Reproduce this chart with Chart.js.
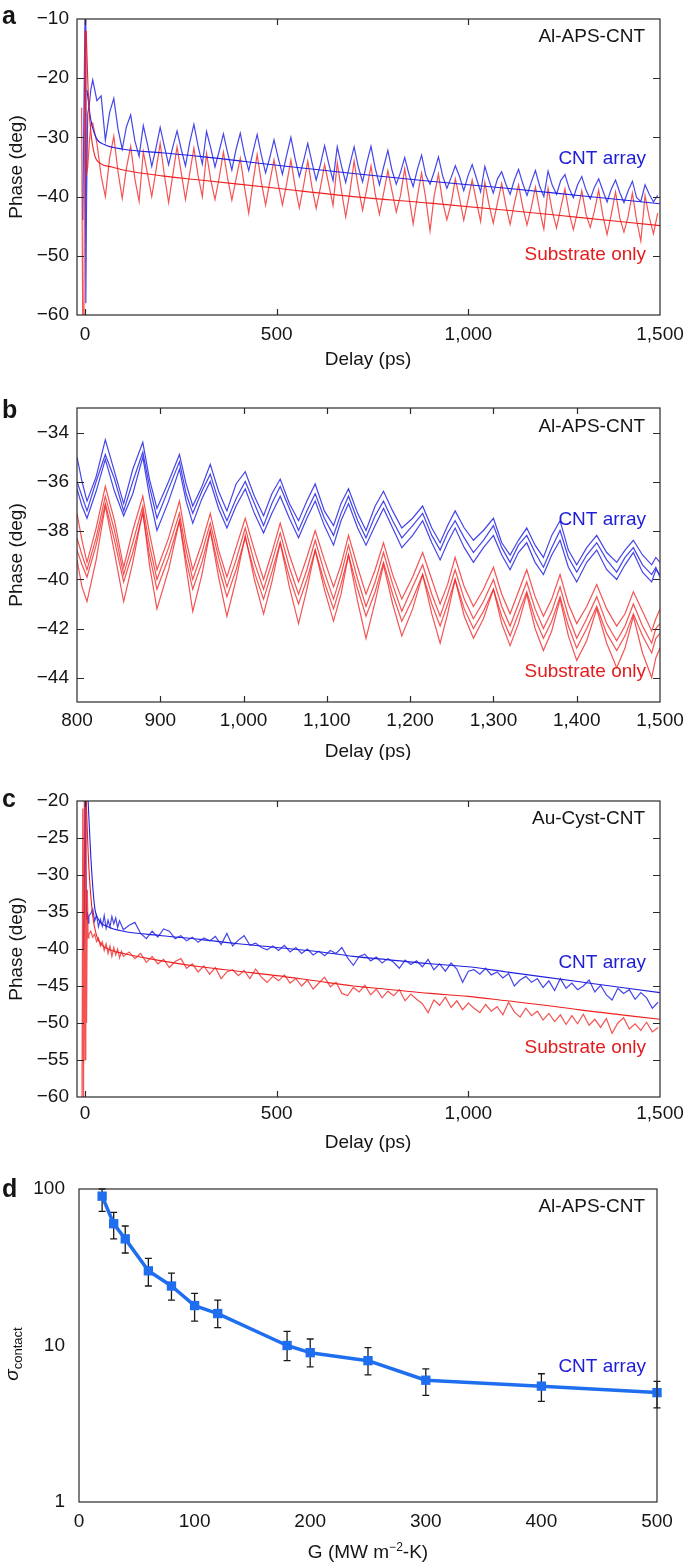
<!DOCTYPE html>
<html>
<head>
<meta charset="utf-8">
<script src="https://cdn.jsdelivr.net/npm/chart.js@4.4.1/dist/chart.umd.min.js"></script>
<style>
  html, body { margin: 0; padding: 0; background: #fff; }
  body { width: 685px; height: 1564px; position: relative; overflow: hidden; }
  canvas { position: absolute; left: 0; }
</style>
</head>
<body>
<canvas id="chartA" width="685" height="370" style="top:0px"></canvas>
<canvas id="chartB" width="685" height="390" style="top:370px"></canvas>
<canvas id="chartC" width="685" height="400" style="top:760px"></canvas>
<canvas id="chartD" width="685" height="404" style="top:1160px"></canvas>
<script>
// ---- panel a: Al-APS-CNT, full delay range ----
const aDelay = [-9, -6, -3, 0, 2, 4, 7, 11, 15,
  20, 31, 42, 53, 64, 75, 86, 97, 108, 119, 130, 141, 152, 163, 174, 185, 196, 207, 218, 229,
  240, 251, 262, 273, 284, 295, 306, 317, 328, 339, 350, 361, 372, 383, 394, 405, 416, 427, 438, 449,
  460, 471, 482, 493, 504, 515, 526, 537, 548, 559, 570, 581, 592, 603, 614, 625, 636, 647, 658, 669,
  680, 691, 702, 713, 724, 735, 746, 757, 768, 779, 790, 801, 812, 823, 834, 845, 856, 867, 878, 889,
  900, 911, 922, 933, 944, 955, 966, 977, 988, 999, 1010, 1021, 1032, 1043, 1054, 1065, 1076, 1087, 1098, 1109,
  1120, 1131, 1142, 1153, 1164, 1175, 1186, 1197, 1208, 1219, 1230, 1241, 1252, 1263, 1274, 1285, 1296, 1307, 1318, 1329,
  1340, 1351, 1362, 1373, 1384, 1395, 1406, 1417, 1428, 1439, 1450, 1461, 1472, 1483, 1494]
const aBlue = [null, -44, -26, -9, -58, -40, -26, -24.5, -22,
  -20.3, -23.8, -23.0, -30.5, -25.8, -23.4, -28.6, -32.0, -28.2, -26.2,
  -30.6, -33.2, -28.0, -31.2, -34.9, -31.8, -28.3, -31.5, -34.6, -31.6,
  -28.9, -32.0, -34.8, -30.9, -27.8, -31.5, -34.5, -29.0, -31.8, -35.0,
  -32.3, -29.4, -32.6, -35.5, -32.0, -29.3, -32.9, -35.6, -32.5, -29.5,
  -33.0, -36.0, -33.4, -30.4, -33.5, -36.2, -33.0, -30.0, -33.6, -36.6,
  -34.0, -31.0, -34.2, -37.2, -34.6, -31.4, -34.5, -37.3, -31.6, -34.8,
  -37.6, -34.5, -31.6, -35.0, -37.5, -34.3, -31.5, -35.2, -38.0, -35.0,
  -32.2, -35.6, -37.9, -35.9, -33.4, -36.2, -38.3, -35.4, -33.0, -36.4,
  -37.9, -35.8, -33.3, -36.5, -38.6, -36.8, -34.8, -36.6, -39.0, -36.5,
  -34.6, -36.9, -39.2, -34.9, -37.3, -39.4, -37.0, -35.8, -37.9, -39.6,
  -37.2, -35.4, -37.8, -39.8, -37.6, -35.6, -38.2, -40.0, -35.7, -38.1,
  -39.6, -37.3, -36.3, -38.6, -40.2, -38.0, -36.6, -38.9, -40.4, -38.4,
  -37.0, -39.0, -40.9, -38.7, -37.2, -39.3, -41.0, -39.0, -37.4, -40.2,
  -40.8, -38.0, -39.6, -40.9, -39.8]
const aRed = [-25, -62, -62, -12, -22, -36, -35, -31, -28,
  -27.6, -31.0, -36.5, -40.0, -33.5, -29.8, -35.8, -40.3, -35.2, -31.5,
  -37.0, -40.8, -32.4, -36.2, -40.0, -35.6, -31.0, -36.4, -41.0, -36.3,
  -31.6, -36.0, -40.5, -36.1, -31.8, -36.5, -40.0, -32.7, -37.2, -40.5,
  -36.8, -32.5, -36.9, -40.6, -37.0, -33.5, -38.4, -42.8, -37.6, -32.9,
  -37.6, -41.4, -37.5, -33.8, -37.9, -41.4, -37.8, -33.8, -38.3, -41.9,
  -38.2, -34.0, -38.4, -42.0, -38.5, -34.6, -38.0, -41.5, -34.3, -39.0,
  -43.4, -39.2, -34.0, -38.5, -42.3, -38.7, -34.8, -39.6, -43.0, -39.4,
  -35.6, -39.1, -42.6, -39.8, -35.3, -40.0, -44.6, -40.0, -36.0, -40.4,
  -45.8, -39.8, -36.2, -40.9, -43.9, -41.2, -37.0, -40.3, -44.0, -40.6,
  -37.2, -40.8, -44.2, -37.6, -41.4, -44.5, -41.0, -37.8, -41.6, -44.7,
  -41.2, -38.0, -41.8, -44.8, -41.9, -38.4, -42.3, -45.5, -38.6, -42.5,
  -45.3, -42.0, -38.7, -42.8, -45.6, -42.5, -39.0, -43.0, -45.2, -42.4,
  -38.9, -43.2, -46.4, -43.0, -39.2, -43.6, -46.0, -43.3, -39.4, -44.0,
  -47.5, -39.8, -43.5, -46.3, -42.8]
const aBlueFitT = [5, 15, 30, 50, 100, 200, 300, 500, 700, 900, 1100, 1300, 1500]
const aBlueFit = [-22, -27, -30.2, -31.2, -32.0, -32.6, -33.2, -34.7, -36.1, -37.4, -38.6, -39.9, -41.2]
const aRedFitT = [3, 8, 15, 25, 40, 70, 100, 200, 300, 500, 700, 900, 1100, 1300, 1500]
const aRedFit = [-12, -22, -29, -33, -34.4, -35.0, -35.5, -36.5, -37.2, -38.6, -40.0, -41.1, -42.3, -43.6, -44.9]
const aXTicks = [0, 500, 1000, 1500]
const aYTicks = [-10, -20, -30, -40, -50, -60]

// ---- panel b: zoom 800-1500 ps, repeated scans ----
const bDelay = [800, 806, 812, 823, 834, 845, 856, 867, 879, 887, 896, 910, 923, 931, 939, 950, 960, 970, 980, 991,
  1002, 1013, 1024, 1034, 1044, 1055, 1066, 1076, 1086, 1097, 1108, 1117, 1126, 1137, 1147, 1158, 1168, 1179, 1190, 1203,
  1215, 1226, 1236, 1245, 1254, 1265, 1276, 1288, 1300, 1310, 1320, 1330, 1340, 1350, 1360, 1370, 1380, 1390, 1400, 1412,
  1424, 1436, 1448, 1458, 1468, 1479, 1490, 1495, 1500]
const bBlue1 = [-35.0, -36.0, -36.8, -35.8, -34.3, -35.6, -36.9, -35.5, -34.4, -35.9,
  -37.1, -36.0, -34.9, -36.1, -37.0, -36.2, -35.3, -36.4, -37.2, -36.1,
  -35.6, -36.6, -37.4, -36.5, -35.9, -36.9, -37.6, -36.8, -36.1, -37.2,
  -37.8, -36.9, -36.3, -37.3, -38.0, -37.0, -36.4, -37.2, -37.9, -37.5,
  -37.0, -37.9, -38.5, -37.8, -37.2, -37.9, -38.4, -38.0, -37.5, -38.5,
  -39.0, -38.4, -37.9, -38.6, -39.1, -38.2, -37.6, -38.8, -39.4, -38.7,
  -38.2, -38.9, -39.3, -38.8, -38.4, -39.0, -39.4, -39.1, -39.3]
const bBlue2 = [-36.0, -36.6, -37.2, -36.0, -34.9, -35.9, -37.2, -36.0, -34.8, -36.2,
  -37.5, -36.3, -35.2, -36.5, -37.3, -36.4, -35.7, -36.8, -37.6, -36.7,
  -36.0, -36.9, -37.8, -36.9, -36.2, -37.1, -38.0, -37.2, -36.5, -37.5,
  -38.2, -37.3, -36.6, -37.6, -38.3, -37.4, -36.8, -37.6, -38.3, -37.8,
  -37.3, -38.2, -38.8, -38.1, -37.6, -38.3, -38.9, -38.4, -37.8, -38.7,
  -39.3, -38.6, -38.2, -38.9, -39.5, -38.7, -38.0, -39.1, -39.7, -39.0,
  -38.5, -39.2, -39.7, -39.1, -38.7, -39.4, -39.8, -39.5, -39.9]
const bBlue3 = [-36.3, -37.0, -37.5, -36.4, -35.1, -36.4, -37.4, -36.5, -35.0, -36.6,
  -38.0, -36.8, -35.5, -36.8, -37.7, -36.7, -36.0, -37.1, -37.9, -37.0,
  -36.3, -37.3, -38.1, -37.3, -36.6, -37.5, -38.3, -37.5, -36.8, -37.8,
  -38.6, -37.6, -36.9, -37.9, -38.6, -37.8, -37.1, -37.9, -38.7, -38.2,
  -37.6, -38.5, -39.2, -38.5, -37.9, -38.7, -39.3, -38.7, -38.2, -39.0,
  -39.6, -38.9, -38.5, -39.3, -39.8, -39.0, -38.4, -39.5, -40.1, -39.3,
  -38.8, -39.6, -40.0, -39.4, -38.9, -39.7, -40.1, -39.6, -39.8]
const bRed1 = [-37.3, -38.4, -39.3, -37.9, -36.2, -37.6, -39.5, -38.0, -36.6, -38.1,
  -39.6, -38.3, -36.8, -38.4, -39.6, -38.5, -37.3, -38.8, -39.9, -38.7,
  -37.5, -38.8, -40.0, -38.9, -37.7, -39.0, -40.1, -39.1, -38.0, -39.2,
  -40.3, -39.4, -38.2, -39.5, -40.6, -39.6, -38.5, -39.8, -40.8, -39.9,
  -38.9, -40.0, -41.0, -40.2, -39.1, -40.3, -41.1, -40.4, -39.5, -40.6,
  -41.4, -40.5, -39.6, -40.7, -41.5, -40.8, -39.8, -41.0, -41.8, -41.1,
  -40.2, -41.2, -41.9, -41.4, -40.5, -41.3, -42.1, -41.6, -41.2]
const bRed2 = [-38.3, -39.0, -39.6, -38.3, -36.6, -38.0, -39.8, -38.5, -37.0, -38.6,
  -40.0, -38.7, -37.3, -38.8, -40.0, -38.9, -37.7, -39.1, -40.3, -39.2,
  -37.9, -39.3, -40.4, -39.3, -38.1, -39.5, -40.6, -39.6, -38.4, -39.7,
  -40.8, -39.8, -38.6, -40.0, -41.1, -40.1, -38.9, -40.2, -41.3, -40.3,
  -39.4, -40.6, -41.5, -40.6, -39.6, -40.8, -41.6, -40.9, -40.0, -41.1,
  -41.9, -41.0, -40.1, -41.2, -42.0, -41.3, -40.3, -41.5, -42.4, -41.6,
  -40.7, -41.8, -42.5, -41.9, -41.0, -41.9, -42.6, -42.0, -41.8]
const bRed3 = [-38.8, -39.4, -39.9, -38.6, -36.9, -38.4, -40.1, -38.9, -37.3, -39.0,
  -40.4, -39.1, -37.6, -39.2, -40.4, -39.3, -38.0, -39.5, -40.7, -39.6,
  -38.3, -39.7, -40.8, -39.7, -38.5, -39.9, -41.0, -40.0, -38.8, -40.1,
  -41.2, -40.2, -39.0, -40.4, -41.5, -40.5, -39.3, -40.6, -41.7, -40.8,
  -39.8, -41.0, -41.9, -41.0, -40.0, -41.2, -42.0, -41.3, -40.4, -41.5,
  -42.3, -41.4, -40.5, -41.6, -42.4, -41.7, -40.7, -41.9, -42.8, -42.0,
  -41.1, -42.2, -42.9, -42.3, -41.4, -42.3, -43.0, -42.4, -42.2]
const bRed4 = [-39.2, -40.3, -40.9, -39.2, -37.0, -38.9, -40.9, -39.3, -37.2, -39.4,
  -41.2, -39.6, -37.6, -39.5, -41.3, -39.8, -38.0, -39.9, -41.5, -40.0,
  -38.2, -40.0, -41.4, -40.1, -38.5, -40.3, -41.8, -40.4, -38.8, -40.4,
  -41.7, -40.6, -39.0, -40.9, -42.4, -40.9, -39.4, -41.0, -42.3, -41.2,
  -39.8, -41.4, -42.6, -41.4, -40.0, -41.5, -42.4, -41.6, -40.4, -41.8,
  -42.7, -41.8, -40.6, -42.0, -42.9, -42.1, -40.8, -42.3, -43.3, -42.5,
  -41.2, -42.6, -43.6, -42.8, -41.5, -43.0, -44.0, -43.2, -42.8]
const bXTicks = [800, 900, 1000, 1100, 1200, 1300, 1400, 1500]
const bYTicks = [-34, -36, -38, -40, -42, -44]

// ---- panel c: Au-Cyst-CNT ----
const cDelay = [-8, -6, -4, -2, 0, 2, 4, 6, 8, 10,
  15, 20, 25, 30, 35, 40, 45, 50, 55, 60, 65, 70, 75, 80, 85, 90, 95, 100,
  115, 130, 145, 160, 175, 190, 205, 220, 235, 250,
  265, 280, 295, 310, 325, 340, 355, 370, 385, 400,
  415, 430, 445, 460, 475, 490, 505, 520, 535, 550,
  565, 580, 595, 610, 625, 640, 655, 670, 685, 700,
  715, 730, 745, 760, 775, 790, 805, 820, 835, 850,
  865, 880, 895, 910, 925, 940, 955, 970, 985, 1000,
  1015, 1030, 1045, 1060, 1075, 1090, 1105, 1120, 1135, 1150,
  1165, 1180, 1195, 1210, 1225, 1240, 1255, 1270, 1285, 1300,
  1315, 1330, 1345, 1360, 1375, 1390, 1405, 1420, 1435, 1450,
  1465, 1480, 1495]
const cBlue = [null, null, -40, -35, -18, -28, -36, -35, -36.5, -35.5,
  -35.2, -34.6, -36.2, -35.4, -37.0, -36.0, -36.9, -35.5, -37.2, -36.1, -37.0, -35.6, -36.6, -35.8, -37.1, -36.2, -36.8, -37.4,
  -36.8, -36.4, -37.9, -38.6, -37.6, -38.4, -37.3, -37.6, -38.6, -38.2,
  -38.9, -38.4, -39.1, -38.5, -38.9, -38.3, -39.4, -37.9, -39.6, -38.8,
  -38.2, -39.5, -39.2, -39.8, -40.1, -39.6, -40.2, -39.5, -40.4, -39.8,
  -40.6, -40.0, -40.8, -40.3, -40.9, -40.2, -40.6, -39.8, -41.2, -42.2,
  -41.0, -40.7, -41.6, -41.1, -41.9, -41.3, -41.8, -42.6, -41.5, -42.1,
  -41.6, -42.4, -41.4, -42.8, -42.0, -43.0, -41.9, -42.7, -44.5, -43.0,
  -42.8, -43.4, -42.6, -43.5, -43.1, -43.9, -43.3, -45.0, -44.2, -43.7,
  -44.5, -44.0, -45.2, -44.3, -45.6, -44.0, -45.3, -44.6, -45.5, -45.0,
  -44.2, -45.8, -44.9, -46.2, -46.9, -45.3, -46.0, -45.5, -46.8, -45.9,
  -46.6, -48.0, -47.2]
const cRed = [-62, -21, -62, -20, -55, -20, -50, -32, -38.5, -38.0,
  -37.6, -38.4, -38.0, -39.0, -38.5, -39.6, -39.0, -40.2, -39.3, -40.6, -39.6, -41.0, -39.8, -40.8, -40.0, -41.2, -40.3, -41.0,
  -40.4, -41.3, -40.6, -41.8, -41.0, -42.0, -41.4, -42.5, -41.7, -41.3,
  -42.6, -42.0, -43.1, -42.3, -43.4, -42.5, -44.0, -43.1, -42.8, -43.6,
  -42.9, -44.0, -42.7, -43.8, -44.5, -43.7, -44.3, -43.5, -44.6, -44.0,
  -45.0, -44.2, -45.4, -44.6, -43.8, -45.1, -44.5, -46.0, -46.3, -45.2,
  -45.8, -44.9, -46.2, -45.4, -46.6, -45.7, -46.3, -45.5, -47.0, -46.1,
  -46.8, -47.4, -48.6, -46.9, -47.6, -46.5, -47.9, -47.0, -48.2, -47.3,
  -48.0, -48.6, -47.5, -48.4, -47.8, -48.9, -47.2, -48.5, -49.2, -48.0,
  -49.0, -48.4, -49.6, -48.7, -49.8, -48.9, -50.2, -49.0, -50.1, -48.8,
  -50.3, -49.5, -50.6, -49.4, -51.4, -50.0, -49.3, -50.8, -50.1, -51.0,
  -49.9, -51.2, -50.6]
const cBlueFitT = [8, 15, 25, 35, 60, 100, 200, 300, 400, 500, 600, 700, 800, 900, 1000, 1100, 1200, 1300, 1400, 1500]
const cBlueFit = [-20, -27.5, -34.3, -36.0, -37.0, -37.6, -38.2, -38.7, -39.3, -39.8, -40.3, -41.0, -41.5, -42.0, -42.4, -43.1, -43.8, -44.5, -45.2, -45.9]
const cRedFitT = [3, 10, 20, 30, 45, 70, 100, 200, 300, 400, 500, 600, 700, 800, 900, 1000, 1100, 1200, 1300, 1400, 1500]
const cRedFit = [-20, -29, -35.5, -38.2, -39.5, -40.2, -40.6, -41.6, -42.4, -43.0, -43.6, -44.3, -45.0, -45.5, -46.0, -46.4, -47.0, -47.6, -48.3, -48.9, -49.5]
const cXTicks = [0, 500, 1000, 1500]
const cYTicks = [-20, -25, -30, -35, -40, -45, -50, -55, -60]

// ---- panel d: sigma_contact vs G ----
const dG = [20, 30, 40, 60, 80, 100, 120, 180, 200, 250, 300, 400, 500]
const dSigma = [90, 60, 48, 30, 24, 18, 16, 10, 9, 8, 6, 5.5, 5]
const dLow = [72, 48, 39, 24, 19.5, 14.3, 13, 8, 7.3, 6.5, 4.8, 4.4, 4.0]
const dHigh = [100, 71, 58, 36, 29, 21.5, 19.5, 12.3, 11, 9.7, 7.1, 6.6, 5.9]
const dXTicks = [0, 100, 200, 300, 400, 500]
const dYTicks = [1, 10, 100]

const FONT = '"Liberation Sans", Arial, Helvetica, sans-serif'
const FS = 19
const BLUE = 'rgba(28, 28, 228, 0.82)'
const RED = 'rgba(240, 34, 34, 0.78)'
const BLUE_TEXT = '#1d1dd6'
const RED_TEXT = '#e31b1b'

function fmt(v) {
    const s = Math.abs(v).toLocaleString('en-US')
    return v < 0 ? '\u2212' + s : s
}

function points(xs, ys) {
    return xs.map((x, i) => ({ x: x, y: ys[i] }))
}

function trace(xs, ys, color, order) {
    return { data: points(xs, ys), borderColor: color, borderWidth: 1.2, pointRadius: 0, order: order }
}

function fit(xs, ys, color, order) {
    return { data: points(xs, ys), borderColor: color, borderWidth: 1.1, pointRadius: 0, cubicInterpolationMode: 'monotone', order: order }
}

// gap between frame and labels goes through tickLength (ticks never drawn),
// so the label padding doesn't eat into the plot width
function axis(min, max, tickValues, gap, size, type) {
    return {
        type: type || 'linear',
        min: min,
        max: max,
        afterBuildTicks: s => { s.ticks = tickValues.map(v => ({ value: v })) },
        afterFit: s => {
            if (s.isHorizontal()) s.height = size
            else s.width = size
        },
        grid: { display: false, drawTicks: true, tickLength: gap },
        border: { display: false },
        ticks: {
            font: { family: FONT, size: FS },
            color: '#151515',
            padding: 0,
            autoSkip: false,
            maxRotation: 0,
            minRotation: 0,
            callback: v => fmt(v)
        }
    }
}

function drawText(ctx, item, top) {
    ctx.save()
    ctx.fillStyle = item.color || '#151515'
    if (item.parts) {
        ctx.textAlign = 'left'
        ctx.textBaseline = 'alphabetic'
        let w = 0
        item.parts.forEach(p => { ctx.font = p.font; w += ctx.measureText(p.text).width })
        ctx.translate(item.x, item.y - top)
        if (item.rotate) ctx.rotate(-Math.PI / 2)
        let x = -w / 2
        item.parts.forEach(p => {
            ctx.font = p.font
            ctx.fillText(p.text, x, p.dy || 0)
            x += ctx.measureText(p.text).width
        })
    } else {
        ctx.font = item.font || `${FS}px ${FONT}`
        ctx.textAlign = item.align || 'center'
        ctx.textBaseline = item.baseline || 'middle'
        ctx.translate(item.x, item.y - top)
        if (item.rotate) ctx.rotate(-Math.PI / 2)
        ctx.fillText(item.text, 0, 0)
    }
    ctx.restore()
}

// frame, inward ticks on all sides, and the free texts of a panel
function makeFrame(top, withTicks, texts) {
    return {
        id: 'frame',
        afterDraw(chart) {
            const { ctx, chartArea: a, scales } = chart
            ctx.save()
            ctx.strokeStyle = '#2a2a2a'
            ctx.lineWidth = 1.2
            ctx.strokeRect(a.left, a.top, a.right - a.left, a.bottom - a.top)
            if (withTicks) {
                ctx.beginPath()
                scales.x.ticks.forEach(t => {
                    const px = Math.round(scales.x.getPixelForValue(t.value)) + 0.5
                    if (px < a.left + 3 || px > a.right - 3) return
                    ctx.moveTo(px, a.bottom); ctx.lineTo(px, a.bottom - 6)
                    ctx.moveTo(px, a.top); ctx.lineTo(px, a.top + 6)
                })
                scales.y.ticks.forEach(t => {
                    const py = Math.round(scales.y.getPixelForValue(t.value)) + 0.5
                    if (py < a.top + 3 || py > a.bottom - 3) return
                    ctx.moveTo(a.left, py); ctx.lineTo(a.left + 7, py)
                    ctx.moveTo(a.right, py); ctx.lineTo(a.right - 7, py)
                })
                ctx.stroke()
            }
            ctx.restore()
            texts.forEach(item => drawText(ctx, item, top))
        }
    }
}

const errorBars = {
    id: 'errorBars',
    beforeDatasetsDraw(chart) {
        const { ctx, scales } = chart
        ctx.save()
        ctx.strokeStyle = '#1a1a1a'
        ctx.lineWidth = 1.3
        ctx.beginPath()
        dG.forEach((g, i) => {
            const x = scales.x.getPixelForValue(g)
            const y1 = scales.y.getPixelForValue(dLow[i])
            const y2 = scales.y.getPixelForValue(dHigh[i])
            ctx.moveTo(x, y1); ctx.lineTo(x, y2)
            ctx.moveTo(x - 3.5, y1); ctx.lineTo(x + 3.5, y1)
            ctx.moveTo(x - 3.5, y2); ctx.lineTo(x + 3.5, y2)
        })
        ctx.stroke()
        ctx.restore()
    }
}

function baseOptions(padTop, padRight) {
    return {
        responsive: false,
        animation: false,
        devicePixelRatio: 1,
        layout: { padding: { left: 0, right: padRight, top: padTop, bottom: 0 } },
        plugins: { legend: { display: false }, tooltip: { enabled: false } },
        elements: { point: { radius: 0 }, line: { tension: 0 } }
    }
}

function phaseTitle(y) {
    return { text: 'Phase (deg)', x: 17, y: y, rotate: true }
}

function letter(ch, y) {
    return { text: ch, x: 2, y: y, align: 'left', baseline: 'alphabetic', font: `bold 25px ${FONT}` }
}

// panel a
const optsA = baseOptions(19, 25)
optsA.scales = { x: axis(-21, 1500, aXTicks, 8, 55), y: axis(-60, -10, aYTicks, 8, 77) }
new Chart(document.getElementById('chartA'), {
    type: 'line',
    data: {
        datasets: [
            trace(aDelay, aBlue, BLUE, 4),
            trace(aDelay, aRed, RED, 3),
            fit(aBlueFitT, aBlueFit, '#2020e0', 2),
            fit(aRedFitT, aRedFit, '#ee2020', 1)
        ]
    },
    options: optsA,
    plugins: [makeFrame(0, true, [
        letter('a', 24),
        phaseTitle(167),
        { text: 'Delay (ps)', x: 368, y: 360 },
        { text: 'Al-APS-CNT', x: 645, y: 37, align: 'right' },
        { text: 'CNT array', x: 646, y: 159, align: 'right', color: BLUE_TEXT },
        { text: 'Substrate only', x: 646, y: 255, align: 'right', color: RED_TEXT }
    ])]
})

// panel b
const optsB = baseOptions(38, 25)
optsB.scales = { x: axis(800, 1500, bXTicks, 7, 58), y: axis(-45, -33, bYTicks, 8, 77) }
new Chart(document.getElementById('chartB'), {
    type: 'line',
    data: {
        datasets: [
            trace(bDelay, bBlue1, BLUE, 1),
            trace(bDelay, bBlue2, BLUE, 2),
            trace(bDelay, bBlue3, BLUE, 3),
            trace(bDelay, bRed1, RED, 4),
            trace(bDelay, bRed2, RED, 5),
            trace(bDelay, bRed3, RED, 6),
            trace(bDelay, bRed4, RED, 7)
        ]
    },
    options: optsB,
    plugins: [makeFrame(370, true, [
        letter('b', 418),
        phaseTitle(555),
        { text: 'Delay (ps)', x: 368, y: 752 },
        { text: 'Al-APS-CNT', x: 645, y: 427, align: 'right' },
        { text: 'CNT array', x: 646, y: 520, align: 'right', color: BLUE_TEXT },
        { text: 'Substrate only', x: 646, y: 672, align: 'right', color: RED_TEXT }
    ])]
})

// panel c
const optsC = baseOptions(41, 25)
optsC.scales = { x: axis(-21, 1500, cXTicks, 5, 63), y: axis(-60, -20, cYTicks, 8, 77) }
new Chart(document.getElementById('chartC'), {
    type: 'line',
    data: {
        datasets: [
            trace(cDelay, cBlue, BLUE, 4),
            trace(cDelay, cRed, RED, 3),
            fit(cBlueFitT, cBlueFit, '#2020e0', 2),
            fit(cRedFitT, cRedFit, '#ee2020', 1)
        ]
    },
    options: optsC,
    plugins: [makeFrame(760, true, [
        letter('c', 807),
        phaseTitle(949),
        { text: 'Delay (ps)', x: 368, y: 1143 },
        { text: 'Au-Cyst-CNT', x: 645, y: 819, align: 'right' },
        { text: 'CNT array', x: 646, y: 963, align: 'right', color: BLUE_TEXT },
        { text: 'Substrate only', x: 646, y: 1048, align: 'right', color: RED_TEXT }
    ])]
})

// panel d
const optsD = baseOptions(29, 28)
optsD.scales = {
    x: axis(0, 500, dXTicks, 8, 62),
    y: axis(1, 100, dYTicks, 14, 79, 'logarithmic')
}
new Chart(document.getElementById('chartD'), {
    type: 'line',
    data: {
        datasets: [{
            data: points(dG, dSigma),
            borderColor: '#1f6ef0',
            borderWidth: 3.5,
            borderJoinStyle: 'round',
            pointStyle: 'rect',
            pointRadius: 6.6,
            pointBackgroundColor: '#1f6ef0',
            pointBorderWidth: 0,
            clip: false
        }]
    },
    options: optsD,
    plugins: [errorBars, makeFrame(1160, false, [
        letter('d', 1197),
        { parts: [
            { text: '\u03c3', font: `italic 19px ${FONT}` },
            { text: 'contact', font: `13px ${FONT}`, dy: 4 }
        ], x: 18, y: 1354, rotate: true },
        { parts: [
            { text: 'G (MW m', font: `${FS}px ${FONT}` },
            { text: '\u22122', font: `12px ${FONT}`, dy: -7 },
            { text: '-K)', font: `${FS}px ${FONT}` }
        ], x: 368, y: 1558 },
        { text: 'Al-APS-CNT', x: 645, y: 1207, align: 'right' },
        { text: 'CNT array', x: 646, y: 1367, align: 'right', color: BLUE_TEXT }
    ])]
})
</script>
</body>
</html>
